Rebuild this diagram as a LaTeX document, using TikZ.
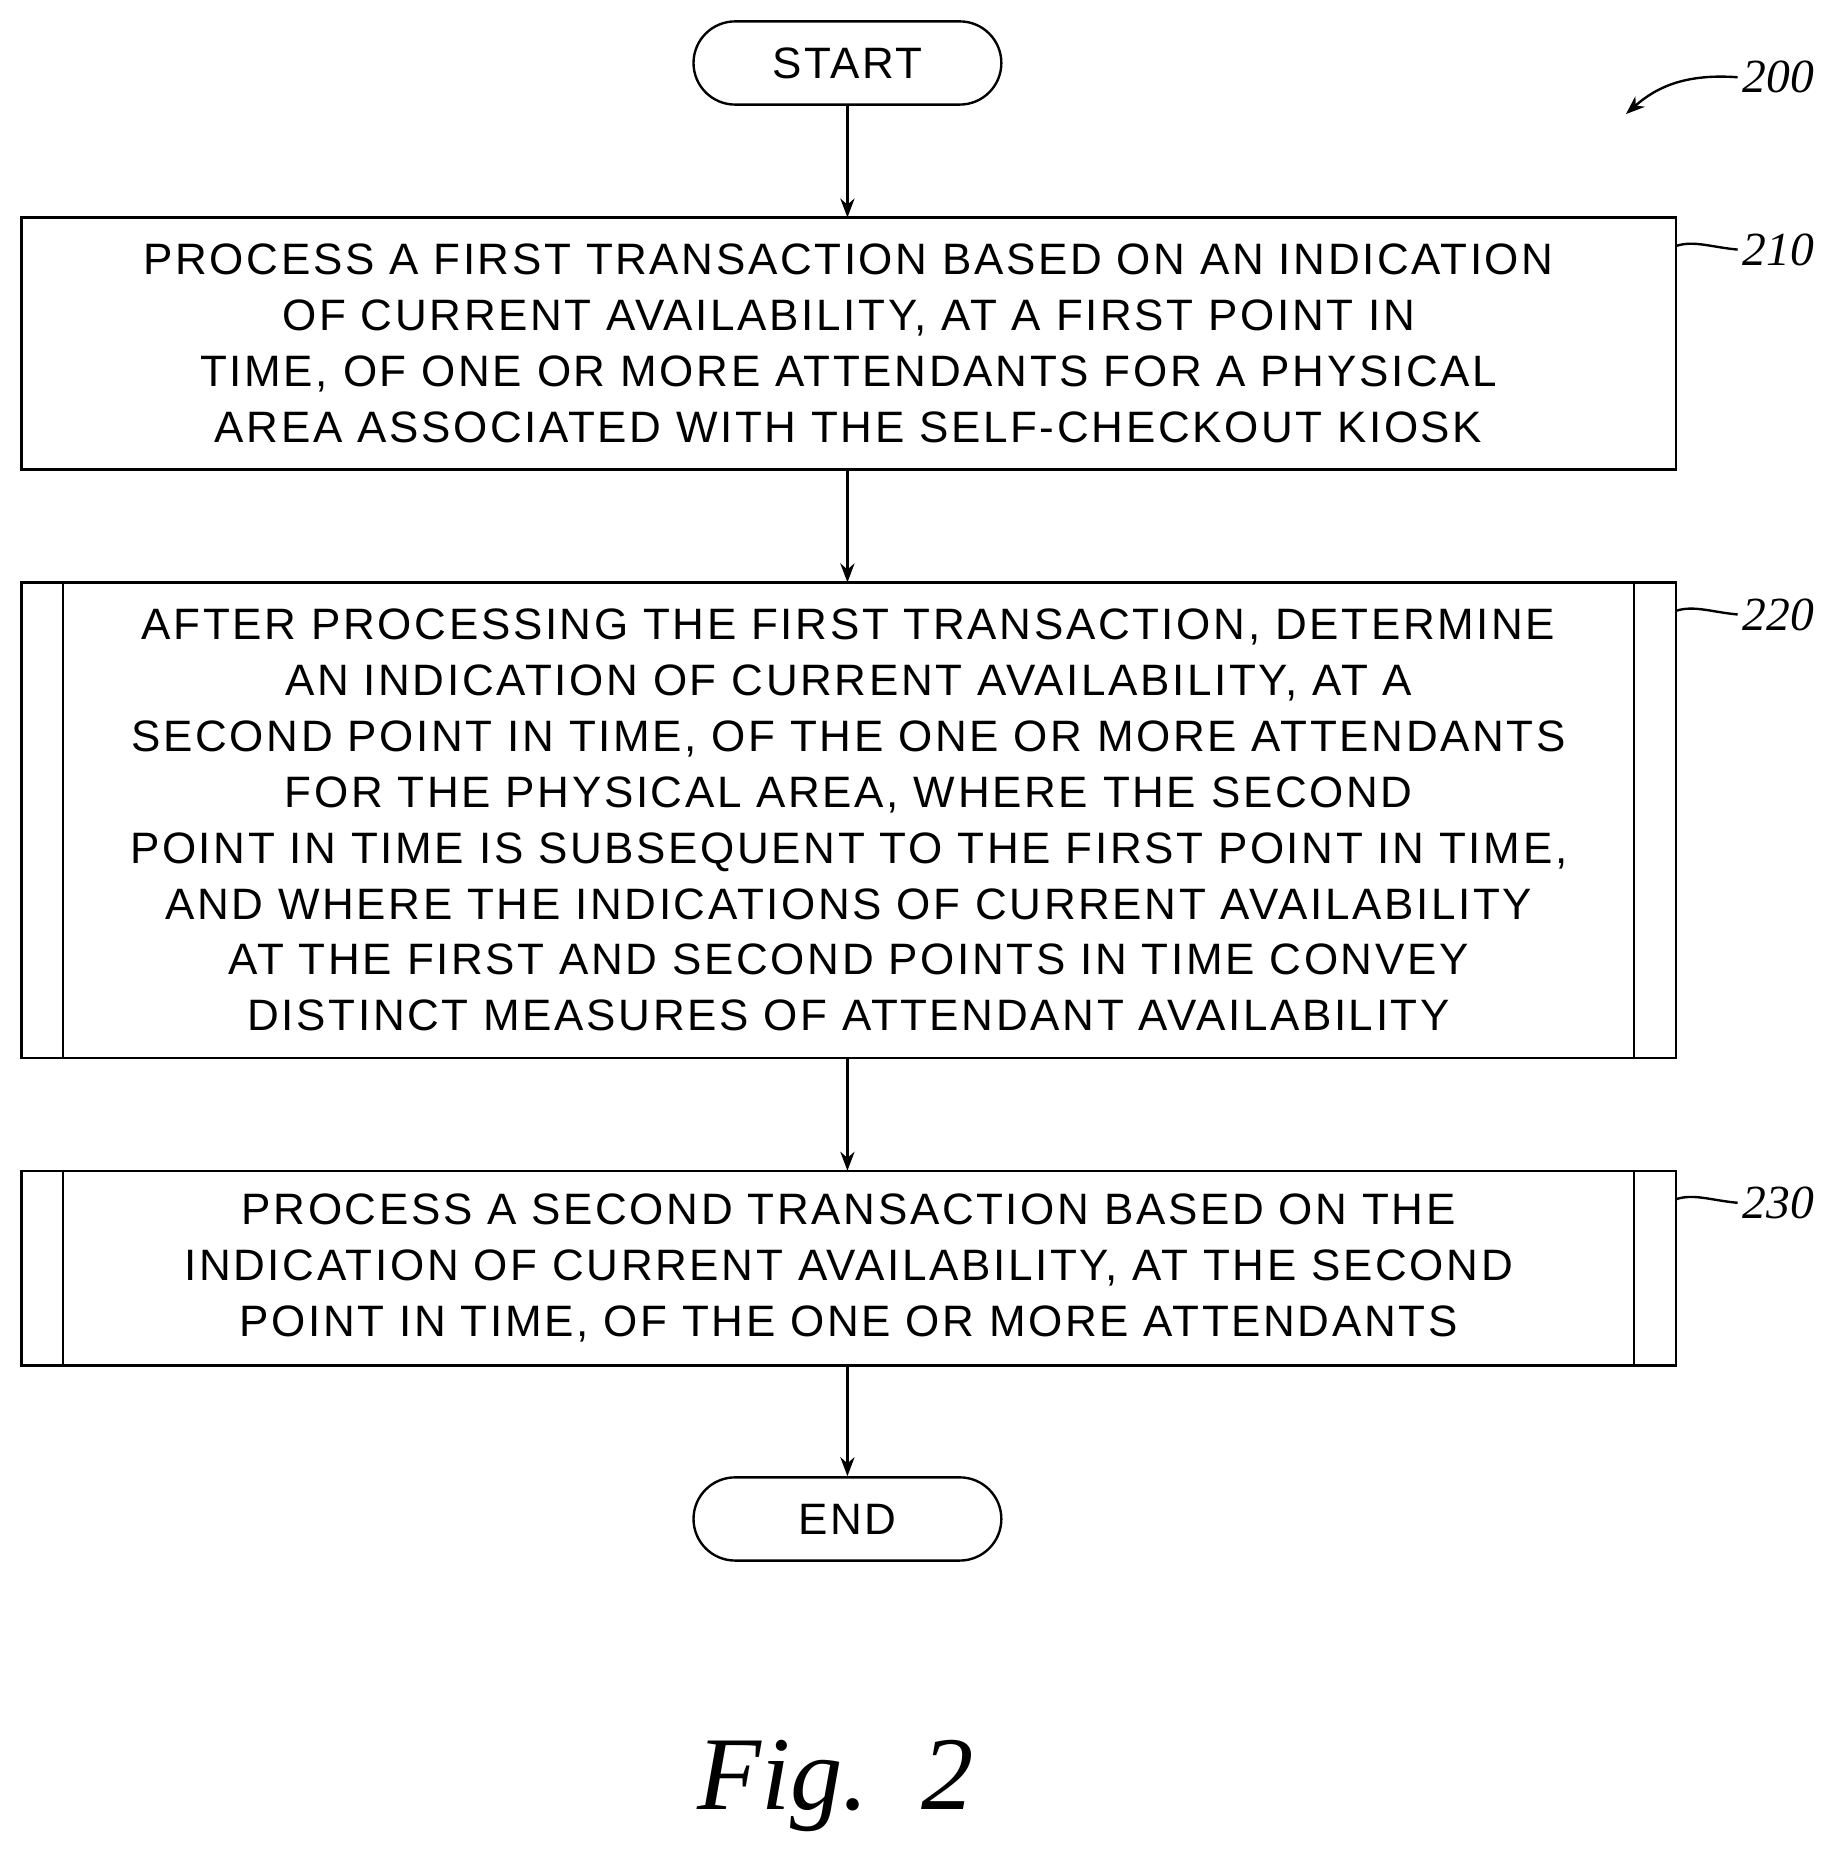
\documentclass[tikz,border=0pt]{standalone}
\usepackage{fontspec}
\setmainfont{Liberation Sans}[LetterSpace=6]
\newfontfamily\figfont{Liberation Serif}
\usetikzlibrary{arrows.meta}
\begin{document}
\begin{tikzpicture}[x=1pt,y=-1pt,line width=2pt,
  txt/.style={font=\fontsize{37}{47}\selectfont,align=center},
  term/.style={draw,rounded corners=35pt,minimum width=259pt,minimum height=70pt,inner sep=0pt,font=\fontsize{37}{42}\selectfont},
  arr/.style={-{Stealth[length=16pt,width=12pt]}},
  lbl/.style={font=\figfont\itshape\fontsize{40}{44}\selectfont}]
\useasboundingbox (0,0) rectangle (1550,1570);
\node[term] (start) at (713,53) {START};
\draw (18,183) rectangle (1410,395);
\node[txt] (t210) at (714,289) {PROCESS A FIRST TRANSACTION BASED ON AN INDICATION\\OF CURRENT AVAILABILITY, AT A FIRST POINT IN\\TIME, OF ONE OR MORE ATTENDANTS FOR A PHYSICAL\\AREA ASSOCIATED WITH THE SELF-CHECKOUT KIOSK};
\draw (18,490) rectangle (1410,890) (53,490)--(53,890) (1375,490)--(1375,890);
\node[txt] (t220) at (714,690) {AFTER PROCESSING THE FIRST TRANSACTION, DETERMINE\\AN INDICATION OF CURRENT AVAILABILITY, AT A\\SECOND POINT IN TIME, OF THE ONE OR MORE ATTENDANTS\\FOR THE PHYSICAL AREA, WHERE THE SECOND\\POINT IN TIME IS SUBSEQUENT TO THE FIRST POINT IN TIME,\\AND WHERE THE INDICATIONS OF CURRENT AVAILABILITY\\AT THE FIRST AND SECOND POINTS IN TIME CONVEY\\DISTINCT MEASURES OF ATTENDANT AVAILABILITY};
\draw (18,985) rectangle (1410,1149) (53,985)--(53,1149) (1375,985)--(1375,1149);
\node[txt] (t230) at (714,1067) {PROCESS A SECOND TRANSACTION BASED ON THE\\INDICATION OF CURRENT AVAILABILITY, AT THE SECOND\\POINT IN TIME, OF THE ONE OR MORE ATTENDANTS};
\node[term] (end) at (713,1278) {END};
\coordinate (a1) at (713,183); \coordinate (a2) at (713,395);
\coordinate (a3) at (713,490); \coordinate (a4) at (713,890);
\coordinate (a5) at (713,985); \coordinate (a6) at (713,1149);
\draw[arr] (start) -- (a1);
\draw[arr] (a2) -- (a3);
\draw[arr] (a4) -- (a5);
\draw[arr] (a6) -- (end);
\node[lbl,anchor=west] (l200) at (1462,65) {200};
\node[lbl,anchor=west] (l210) at (1462,210) {210};
\node[lbl,anchor=west] (l220) at (1462,517) {220};
\node[lbl,anchor=west] (l230) at (1462,1012) {230};
\draw[arr] (l200.west) .. controls (1420,62) and (1395,72) .. (1368,96);
\draw (1410,207) .. controls (1425,202) and (1440,208) .. (l210.west);
\draw (1410,514) .. controls (1425,509) and (1440,515) .. (l220.west);
\draw (1410,1009) .. controls (1425,1004) and (1440,1010) .. (l230.west);
\node[font=\figfont\itshape\fontsize{88}{100}\selectfont] (fig) at (703,1503) {Fig.\ \ 2};
\end{tikzpicture}
\end{document}
